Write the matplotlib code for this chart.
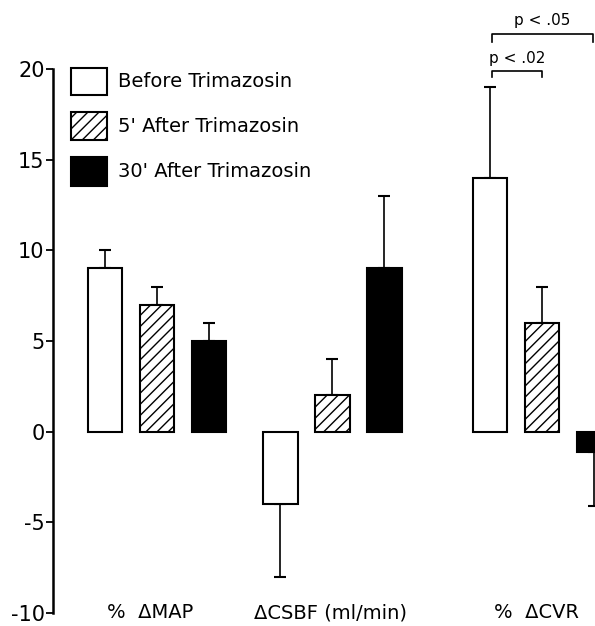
import numpy as np
import matplotlib
matplotlib.use("Agg")
import matplotlib.pyplot as plt
from matplotlib.patches import Rectangle

# data
measures = ["%  \u0394MAP", "\u0394CSBF (ml/min)", "%  \u0394CVR"]
conditions = ["Before Trimazosin", "5' After Trimazosin", "30' After Trimazosin"]
before = [9, -4, 14]
after5 = [7, 2, 6]
after30 = [5, 9, -1.1]
err_before = [1, 4, 5]
err_after5 = [1, 2, 2]
err_after30 = [1, 4, 3]
yticks = [-10, -5, 0, 5, 10, 15, 20]

plt.rcParams["hatch.linewidth"] = 1.0
plt.rcParams["font.family"] = "DejaVu Sans"

W, H = 595, 626
fig = plt.figure(figsize=(W / 100, H / 100), dpi=100)
ax = fig.add_axes([53 / W, 13 / H, 542 / W, 613 / H])

group_centers = np.array([2.0, 5.37, 9.4])
offsets = [-1.0, 0.0, 1.0]
width = 0.67
styles = [dict(color="white", hatch=None), dict(color="white", hatch="///"), dict(color="black", hatch=None)]
series = [before, after5, after30]
errs = [err_before, err_after5, err_after30]

for k in range(3):
    x = group_centers + offsets[k]
    vals = np.array(series[k], dtype=float)
    e = np.array(errs[k], dtype=float)
    ax.bar(x, vals, width, color=styles[k]["color"], edgecolor="black",
           linewidth=1.5, hatch=styles[k]["hatch"], zorder=2)
    lower = np.where(vals < 0, e, 0)
    upper = np.where(vals >= 0, e, 0)
    ax.errorbar(x, vals, yerr=[lower, upper], fmt="none", ecolor="black",
                elinewidth=1.2, capsize=4.3, capthick=1.5, zorder=1)

ax.set_xlim(0, 10.42)
ax.set_ylim(-10, 23.8)
ax.set_yticks(yticks)
ax.set_yticklabels([str(t) for t in yticks], fontsize=15)
ax.tick_params(axis="y", direction="out", length=5, width=1.3, pad=1)
ax.set_xticks([])
ax.spines["left"].set_bounds(-10, 20)
ax.spines["left"].set_linewidth(1.8)
for s in ["top", "right", "bottom"]:
    ax.spines[s].set_visible(False)

label_x = [1.87, 5.33, 9.29]
for lx, name in zip(label_x, measures):
    ax.text(lx, -10, name, ha="center", va="center", fontsize=14, clip_on=False)

# significance brackets
def bracket(x0, x1, y, h, label, ty):
    ax.plot([x0, x0, x1, x1], [y - h, y, y, y - h], color="black", lw=1.2, clip_on=False)
    ax.text((x0 + x1) / 2, ty, label, ha="center", va="center", fontsize=11)

bracket(group_centers[2] - 1 + 0.04, group_centers[2] + 0.0, 19.9, 0.35, "p < .02", 20.6)
bracket(group_centers[2] - 1 + 0.04, group_centers[2] + 1 - 0.02, 21.93, 0.45, "p < .05", 22.65)

# legend drawn by hand (boxes + labels), positions in pixels
box_tops = [68, 112, 157]
box_h = [27, 28, 29]
for i, name in enumerate(conditions):
    st = styles[i]
    r = Rectangle((71 / W, 1 - (box_tops[i] + box_h[i]) / H), 36 / W, box_h[i] / H,
                  transform=fig.transFigure, facecolor=st["color"], edgecolor="black",
                  linewidth=1.5, hatch=st["hatch"])
    fig.add_artist(r)
    fig.text(118 / W, 1 - (box_tops[i] + box_h[i] / 2) / H, name, ha="left", va="center",
             fontsize=14)

fig.savefig("out.png", dpi=100)
plt.close(fig)
